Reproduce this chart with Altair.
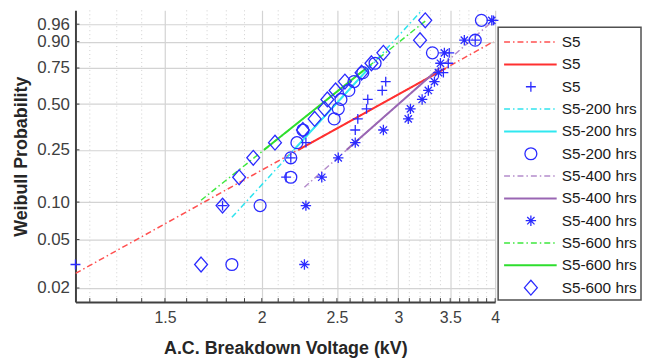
import numpy as np
import pandas as pd
import altair as alt

# ---------------- data ----------------
SERIES = ["S5", "S5-200 hrs", "S5-400 hrs", "S5-600 hrs"]
# Weibull plotting positions (16 specimens per series)
PROB = [0.03125, 0.09375, 0.15625, 0.21875, 0.28125, 0.34375, 0.40625, 0.46875,
        0.53125, 0.59375, 0.65625, 0.71875, 0.78125, 0.84375, 0.90625, 0.96875]
V_S5 = [1.15, 1.78, 2.15, 2.18, 2.28, 2.64, 2.66, 2.73, 2.74, 2.86, 2.89, 3.43, 3.48, 3.49, 3.77, 3.98]
V_S5_200 = [1.83, 1.99, 2.18, 2.18, 2.22, 2.26, 2.48, 2.51, 2.53, 2.59, 2.63, 2.70, 2.80, 3.32, 3.77, 3.84]
V_S5_400 = [2.27, 2.28, 2.39, 2.51, 2.64, 2.87, 3.09, 3.11, 3.22, 3.28, 3.34, 3.38, 3.40, 3.44, 3.65, 3.96]
V_S5_600 = [1.67, 1.78, 1.87, 1.95, 2.08, 2.26, 2.34, 2.41, 2.43, 2.49, 2.56, 2.69, 2.77, 2.87, 3.20, 3.25]
VALUES = [V_S5, V_S5_200, V_S5_400, V_S5_600]

X_TICKS = [1.5, 2, 2.5, 3, 3.5, 4]
X_MINOR = [1.2, 1.3, 1.4, 1.6, 1.7, 1.8, 1.9, 2.1, 2.2, 2.3, 2.4, 2.6, 2.7, 2.8, 2.9,
           3.1, 3.2, 3.3, 3.4, 3.6, 3.7, 3.8, 3.9]
Y_TICKS = [0.02, 0.05, 0.10, 0.25, 0.50, 0.75, 0.90, 0.96]
X_LIMITS = [1.15, 4.0]
Y_LIMITS = [0.0153, 0.985]

LEG_LABELS = ["S5", "S5", "S5",
              "S5-200 hrs", "S5-200 hrs", "S5-200 hrs",
              "S5-400 hrs", "S5-400 hrs", "S5-400 hrs",
              "S5-600 hrs", "S5-600 hrs", "S5-600 hrs"]
LEG_KIND = ["dashdot", "solid", "marker"] * 4

# ---------------- styles ----------------
FONT = "Liberation Sans"
BLUE = "#2b2bff"
DASH_COLORS = ["#ff5050", "#30e4ee", "#b48ccb", "#3ee83e"]
SOLID_COLORS = ["#ff3030", "#30e8f0", "#9966b3", "#2ede2e"]
SHAPES = ["M-1,0L1,0M0,-1L0,1",
          "circle",
          "M-1,0L1,0M0,-1L0,1M-0.7,-0.7L0.7,0.7M-0.7,0.7L0.7,-0.7",
          "M0,-1.15L1,0L0,1.15L-1,0Z"]
SIZES = [100, 144, 110, 169]
DASHDOT = [6, 3, 1.5, 3]
W, H = 423, 294


def wb(p):
    return float(np.log(-np.log(1.0 - p)))


# points table
rows = []
for name, vals, shp, sz in zip(SERIES, VALUES, SHAPES, SIZES):
    for v, p in zip(vals, PROB):
        rows.append(dict(series=name, v=v, p=p, shape=shp, size=sz))
pts = pd.DataFrame(rows)

# reference lines (quartile line, extended to data range), like wblplot
lrows = []
for name, vals, dc, sc in zip(SERIES, VALUES, DASH_COLORS, SOLID_COLORS):
    lv = np.log(np.sort(np.array(vals)))
    q1 = (lv[3] + lv[4]) / 2
    q3 = (lv[11] + lv[12]) / 2
    y1, y3 = wb(0.25), wb(0.75)
    m = (y3 - y1) / (q3 - q1)
    for l in (lv[0], lv[-1]):
        lrows.append(dict(series=name, kind="dashdot", color=dc, v=float(np.exp(l)), y=y1 + m * (l - q1)))
    for l in (q1, q3):
        lrows.append(dict(series=name, kind="solid", color=sc, v=float(np.exp(l)), y=y1 + m * (l - q1)))
lines = pd.DataFrame(lrows)

xscale = alt.Scale(type="log", domain=X_LIMITS, nice=False)
yscale = alt.Scale(domain=[wb(Y_LIMITS[0]), wb(Y_LIMITS[1])], nice=False, zero=False)
xaxis = alt.Axis(values=X_TICKS, labelExpr="'' + datum.value", title="A.C. Breakdown Voltage (kV)",
                 grid=True, labelFlush=False, labelPadding=8, titlePadding=14, labelFontSize=16)
yaxis = alt.Axis(values=[wb(p) for p in Y_TICKS],
                 labelExpr="format(1 - exp(-exp(datum.value)), '.2f')",
                 title="Weibull Probability", grid=True, labelPadding=6, titlePadding=6, labelFontSize=17)
X = alt.X("v:Q", scale=xscale, axis=xaxis)
Y = alt.Y("y:Q", scale=yscale, axis=yaxis)

minor_df = pd.DataFrame({"v": X_MINOR})
tick_df = pd.DataFrame({"v": X_TICKS + X_MINOR})
ytick_df = pd.DataFrame({"p": Y_TICKS})

minor_grid = alt.Chart(minor_df).mark_rule(color="#cfcfcf", strokeDash=[1, 3], strokeWidth=1).encode(x=X)
xticks = alt.Chart(tick_df).mark_rule(color="#404040", strokeWidth=1).encode(
    x=X, y=alt.value(H), y2=alt.value(H - 4))
yticks = alt.Chart(ytick_df).transform_calculate(y="log(-log(1 - datum.p))").mark_rule(
    color="#404040", strokeWidth=1).encode(y=Y, x=alt.value(0), x2=alt.value(4))

dash_layer = alt.Chart(lines).transform_filter("datum.kind == 'dashdot'").mark_line(
    clip=True, strokeDash=DASHDOT, strokeWidth=1.5).encode(
    x=X, y=Y, detail="series:N", color=alt.Color("color:N", scale=None))
solid_layer = alt.Chart(lines).transform_filter("datum.kind == 'solid'").mark_line(
    clip=True, strokeWidth=2).encode(
    x=X, y=Y, detail="series:N", color=alt.Color("color:N", scale=None))
point_layer = alt.Chart(pts).transform_calculate(y="log(-log(1 - datum.p))").mark_point(
    filled=False, color=BLUE, strokeWidth=1.3, opacity=1, clip=False).encode(
    x=X, y=Y, shape=alt.Shape("shape:N", scale=None), size=alt.Size("size:Q", scale=None))

main = alt.layer(minor_grid, xticks, yticks, dash_layer, solid_layer, point_layer).properties(
    width=W, height=H)

# ---------------- legend panel ----------------
leg_rows = []
for i, (lab, kind) in enumerate(zip(LEG_LABELS, LEG_KIND)):
    s = i // 3
    color = {"dashdot": DASH_COLORS[s], "solid": SOLID_COLORS[s], "marker": BLUE}[kind]
    leg_rows.append(dict(idx=i, label=lab, kind=kind, color=color, shape=SHAPES[s], size=SIZES[s]))
leg = pd.DataFrame(leg_rows)

LY = alt.Y("idx:Q", scale=alt.Scale(domain=[-1.422, 11.644], reverse=True, nice=False, zero=False), axis=None)
box = alt.Chart(pd.DataFrame({"a": [0]})).mark_rect(fill="white", stroke="#505050", strokeWidth=1.5).encode(
    x=alt.value(0), x2=alt.value(144), y=alt.value(17), y2=alt.value(292))
leg_dash = alt.Chart(leg).transform_filter("datum.kind == 'dashdot'").mark_rule(
    strokeDash=DASHDOT, strokeWidth=1.5).encode(
    x=alt.value(6), x2=alt.value(59), y=LY, color=alt.Color("color:N", scale=None))
leg_solid = alt.Chart(leg).transform_filter("datum.kind == 'solid'").mark_rule(strokeWidth=2).encode(
    x=alt.value(6), x2=alt.value(59), y=LY, color=alt.Color("color:N", scale=None))
leg_mark = alt.Chart(leg).transform_filter("datum.kind == 'marker'").mark_point(
    filled=False, color=BLUE, strokeWidth=1.3, opacity=1).encode(
    x=alt.value(33), y=LY, shape=alt.Shape("shape:N", scale=None), size=alt.Size("size:Q", scale=None))
leg_text = alt.Chart(leg).mark_text(align="left", baseline="middle", font=FONT, fontSize=15.5,
                                    color="#1a1a1a").encode(x=alt.value(64), y=LY, text="label:N")
legend = alt.layer(box, leg_dash, leg_solid, leg_mark, leg_text).properties(width=144, height=H)

chart = alt.hconcat(main, legend, spacing=3, bounds="flush").properties(
    padding={"left": 4, "top": 0, "right": 0, "bottom": 0}
).configure_view(stroke=None).configure_axis(
    labelFont=FONT, labelColor="#404040",
    titleFont=FONT, titleFontSize=18, titleFontWeight="bold", titleColor="#262626",
    domainColor="#404040", domainWidth=2, ticks=False, tickSize=0,
    gridColor="#d3d3d3", gridWidth=1.2
)

chart.save("out.html", embed_options={"renderer": "svg", "actions": False})
